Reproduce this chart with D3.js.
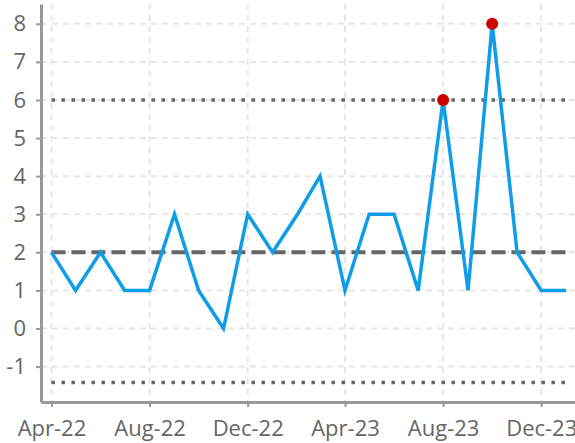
<!DOCTYPE html>
<html lang="en">
<head>
    <meta charset="UTF-8">
    <title>Monthly count chart</title>
    <script src="https://d3js.org/d3.v7.min.js"></script>
    <style>
        body { margin: 0; background: #fff; }
        text { font-family: "Open Sans", "Noto Sans", sans-serif; }
    </style>
</head>
<body>
    <div id="chart"></div>
    <script>
        // Data
        var months = ["2022-04", "2022-05", "2022-06", "2022-07", "2022-08", "2022-09", "2022-10", "2022-11",
            "2022-12", "2023-01", "2023-02", "2023-03", "2023-04", "2023-05", "2023-06", "2023-07",
            "2023-08", "2023-09", "2023-10", "2023-11", "2023-12", "2024-01"];
        var values = [2, 1, 2, 1, 1, 3, 1, 0, 3, 2, 3, 4, 1, 3, 3, 1, 6, 1, 8, 2, 1, 1];
        var yTicks = [-1, 0, 1, 2, 3, 4, 5, 6, 7, 8];
        var xTicks = ["2022-04", "2022-08", "2022-12", "2023-04", "2023-08", "2023-12"];
        var centerLine = 2;
        var upperLimit = 6;
        var lowerLimit = -1.42;

        var width = 575, height = 443;
        var margin = { top: 4, right: 0, bottom: 41, left: 41 };

        var parse = d3.timeParse("%Y-%m");
        var data = months.map((m, i) => ({ date: parse(m), value: values[i] }));

        var svg = d3.select("#chart").append("svg")
            .attr("width", width)
            .attr("height", height);

        var x = d3.scaleTime()
            .domain([new Date(2022, 2, 19), new Date(2024, 0, 12)])
            .range([margin.left, width - margin.right]);

        var y = d3.scaleLinear()
            .domain([-1.93, 8.52])
            .range([height - margin.bottom, margin.top]);

        // Grid lines
        var grid = svg.append("g");
        grid.selectAll(".hgrid").data(yTicks).enter().append("line")
            .attr("x1", margin.left).attr("x2", width - margin.right)
            .attr("y1", d => y(d)).attr("y2", d => y(d))
            .attr("stroke", "#e6e6e6").attr("stroke-width", 2)
            .attr("stroke-dasharray", "6,5");
        grid.selectAll(".vgrid").data(xTicks).enter().append("line")
            .attr("x1", d => x(parse(d))).attr("x2", d => x(parse(d)))
            .attr("y1", margin.top).attr("y2", height - margin.bottom)
            .attr("stroke", "#e6e6e6").attr("stroke-width", 2)
            .attr("stroke-dasharray", "6,5");

        // Reference lines
        var x0 = x(data[0].date), x1 = x(data[data.length - 1].date);
        svg.append("line")
            .attr("x1", x0).attr("x2", x1)
            .attr("y1", y(upperLimit)).attr("y2", y(upperLimit))
            .attr("stroke", "#666").attr("stroke-width", 3.5)
            .attr("stroke-dasharray", "3.5,6.5");
        svg.append("line")
            .attr("x1", x0).attr("x2", x1)
            .attr("y1", y(lowerLimit)).attr("y2", y(lowerLimit))
            .attr("stroke", "#666").attr("stroke-width", 3.5)
            .attr("stroke-dasharray", "3.5,6.5");
        svg.append("line")
            .attr("x1", x0).attr("x2", x1)
            .attr("y1", y(centerLine)).attr("y2", y(centerLine))
            .attr("stroke", "#666").attr("stroke-width", 4)
            .attr("stroke-dasharray", "14,6");

        // Series line
        var line = d3.line().x(d => x(d.date)).y(d => y(d.value));
        svg.append("path").datum(data)
            .attr("d", line)
            .attr("fill", "none")
            .attr("stroke", "#0f9de8")
            .attr("stroke-width", 3.5);

        // Points beyond the upper limit
        svg.selectAll(".flag").data(data.filter(d => d.value >= upperLimit)).enter()
            .append("circle")
            .attr("cx", d => x(d.date)).attr("cy", d => y(d.value))
            .attr("r", 6)
            .attr("fill", "#cc0000");

        // Axes
        var xAxis = svg.append("g")
            .attr("transform", "translate(0," + (height - margin.bottom) + ")")
            .call(d3.axisBottom(x)
                .tickValues(xTicks.map(parse))
                .tickFormat(d3.timeFormat("%b-%y"))
                .tickSize(5).tickSizeOuter(0).tickPadding(13));
        var yAxis = svg.append("g")
            .attr("transform", "translate(" + margin.left + ",0)")
            .call(d3.axisLeft(y).tickValues(yTicks)
                .tickFormat(d => String(d))
                .tickSize(5).tickSizeOuter(0).tickPadding(10));

        [xAxis, yAxis].forEach(function (g) {
            g.select(".domain").attr("stroke", "#999").attr("stroke-width", 3);
            g.selectAll(".tick line").attr("stroke", "#999").attr("stroke-width", 2);
            g.selectAll("text").attr("fill", "#666").style("font-size", "22px");
        });
    </script>
</body>
</html>
